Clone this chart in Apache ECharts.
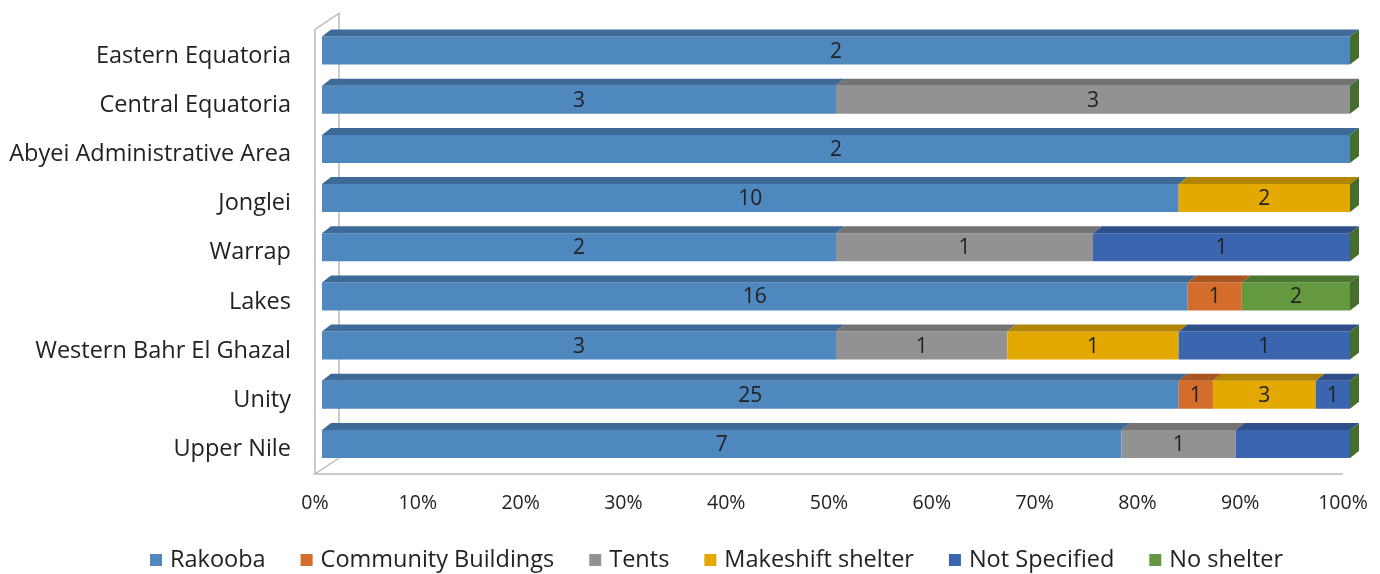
<!DOCTYPE html>
<html>
<head>
<meta charset="utf-8">
<script src="https://cdn.jsdelivr.net/npm/echarts@6/dist/echarts.min.js"></script>
<style>
  html, body { margin: 0; padding: 0; background: #ffffff; }
  #chart { width: 1380px; height: 574px; }
</style>
</head>
<body>
<div id="chart"></div>
<script>
// States, listed bottom-to-top along the category axis
const states = ['Upper Nile', 'Unity', 'Western Bahr El Ghazal', 'Lakes', 'Warrap',
  'Jonglei', 'Abyei Administrative Area', 'Central Equatoria', 'Eastern Equatoria'];
const shelterTypes = ['Rakooba', 'Community Buildings', 'Tents', 'Makeshift shelter', 'Not Specified', 'No shelter'];

// Counts per state (same order as states)
const rakooba      = [7, 25, 3, 16, 2, 10, 2, 3, 2];
const community    = [0, 1, 0, 1, 0, 0, 0, 0, 0];
const tents        = [1, 0, 1, 0, 1, 0, 0, 3, 0];
const makeshift    = [0, 3, 1, 0, 0, 2, 0, 0, 0];
const notSpecified = [1, 1, 1, 0, 1, 0, 0, 0, 0];
const noShelter    = [0, 0, 0, 2, 0, 0, 0, 0, 0];

// Percent axis ticks
const tickMin = 0, tickMax = 100, tickStep = 10;

// Segments drawn without a count label
const unlabelled = [['Upper Nile', 'Not Specified']];

const counts = [rakooba, community, tents, makeshift, notSpecified, noShelter];
const frontColors = ['#4f87bf', '#d46d2c', '#929292', '#e3a900', '#3b65af', '#64993f'];
const topColors   = ['#3e6a97', '#a85522', '#737373', '#b28500', '#2e4f8a', '#4d7630'];
const sideGreen   = '#456d2c';

const FONT = "'Open Sans', 'Noto Sans', sans-serif";
const TEXT = '#222222';

// Cumulative percent ranges per state
const totals = states.map((_, i) => counts.reduce((s, arr) => s + arr[i], 0));
const segData = counts.map((arr, k) => states.map((st, i) => {
  let before = 0;
  for (let j = 0; j < k; j++) before += counts[j][i];
  const start = before / totals[i] * 100;
  const end = (before + arr[i]) / totals[i] * 100;
  const hidden = unlabelled.some(u => u[0] === st && u[1] === shelterTypes[k]) ? 1 : 0;
  return [start, end, i, arr[i], hidden];
}));

// 3D projection of the bars: front face offset from the floor line, and depth vector
const OFF_X = 7, OFF_Y = -5.5, DEPTH_X = 9, DEPTH_Y = -7;

function makeRender(k) {
  return function (params, api) {
    const start = api.value(0), end = api.value(1), idx = api.value(2);
    const count = api.value(3), hidden = api.value(4);
    const p0 = api.coord([start, idx]);
    const p1 = api.coord([end, idx]);
    const band = api.size([0, 1])[1];
    const h = band * 0.57;
    const x0 = p0[0] + OFF_X, x1 = p1[0] + OFF_X;
    const yT = p0[1] + OFF_Y - h / 2;
    const children = [];
    if (x1 - x0 > 0.1) {
      children.push({
        type: 'rect',
        shape: { x: x0, y: yT, width: x1 - x0, height: h },
        style: { fill: frontColors[k] }
      });
      children.push({
        type: 'polygon',
        shape: { points: [[x0, yT], [x1, yT], [x1 + DEPTH_X, yT + DEPTH_Y], [x0 + DEPTH_X, yT + DEPTH_Y]] },
        style: { fill: topColors[k] }
      });
      if (!hidden && count > 0) {
        children.push({
          type: 'text',
          style: {
            text: String(count), x: (x0 + x1) / 2, y: yT + h / 2 + 1,
            align: 'center', verticalAlign: 'middle',
            font: '21px ' + FONT, fill: TEXT
          }
        });
      }
    }
    if (k === counts.length - 1) {
      // right-hand end face of the whole bar
      children.push({
        type: 'polygon',
        shape: { points: [[x1, yT], [x1 + DEPTH_X, yT + DEPTH_Y], [x1 + DEPTH_X, yT + h + DEPTH_Y], [x1, yT + h]] },
        style: { fill: sideGreen }
      });
    }
    return { type: 'group', children: children };
  };
}

// Back wall and floor outline
function renderFrame(params, api) {
  const cs = params.coordSys;
  const gx = cs.x, gy = cs.y, gw = cs.width, gh = cs.height;
  const bx = 24, by = -16;
  const st = { stroke: '#bcbcbc', lineWidth: 1.5, fill: null };
  return {
    type: 'group',
    children: [
      { type: 'polyline', shape: { points: [[gx, gy + gh], [gx, gy - 2], [gx + bx, gy + by - 2], [gx + bx, gy + gh + by]] }, style: st },
      { type: 'polyline', shape: { points: [[gx + bx, gy + gh + by], [gx, gy + gh], [gx + gw, gy + gh]] }, style: st }
    ]
  };
}

const series = [{
  type: 'custom',
  name: '__frame',
  renderItem: renderFrame,
  data: [[0, 0]],
  silent: true,
  z: 1
}];
shelterTypes.forEach((name, k) => {
  series.push({
    type: 'custom',
    name: name,
    renderItem: makeRender(k),
    itemStyle: { color: frontColors[k] },
    encode: { x: [0, 1], y: 2 },
    data: segData[k],
    z: 2 + k
  });
});

const chart = echarts.init(document.getElementById('chart'), null, { renderer: 'canvas' });
chart.setOption({
  animation: false,
  backgroundColor: '#ffffff',
  textStyle: { fontFamily: FONT },
  grid: { left: 315, right: 37, top: 31.5, bottom: 100, containLabel: false },
  legend: {
    data: shelterTypes,
    left: 150,
    top: 548,
    icon: 'rect',
    itemWidth: 12,
    itemHeight: 12,
    itemGap: 35,
    padding: 0,
    textStyle: { fontSize: 23.5, color: TEXT, fontFamily: FONT, padding: [0, 0, 0, 3] }
  },
  xAxis: {
    type: 'value',
    min: tickMin, max: tickMax, interval: tickStep,
    axisLine: { show: false },
    axisTick: { show: false },
    splitLine: { show: false },
    axisLabel: { formatter: '{value}%', fontSize: 19.5, color: TEXT, margin: 19, fontFamily: FONT }
  },
  yAxis: {
    type: 'category',
    data: states,
    axisLine: { show: false },
    axisTick: { show: false },
    splitLine: { show: false },
    axisLabel: { fontSize: 23.5, color: TEXT, margin: 24, fontFamily: FONT }
  },
  series: series
});
</script>
</body>
</html>
